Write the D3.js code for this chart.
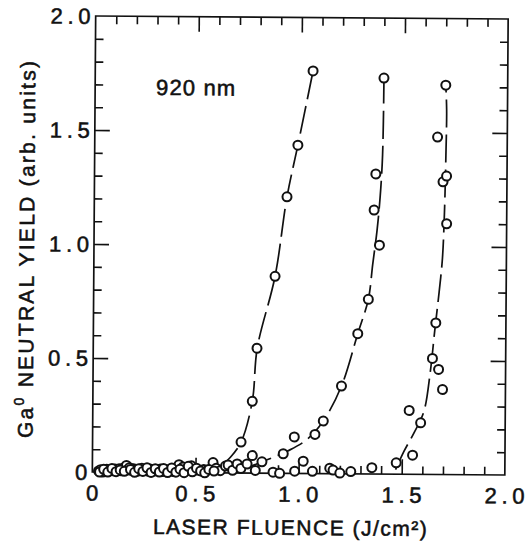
<!DOCTYPE html>
<html>
<head>
<meta charset="utf-8">
<script src="https://cdn.jsdelivr.net/npm/d3@7"></script>
<style>
  body { margin: 0; background: #fff; }
  svg { display: block; }
  text { font-family: "Liberation Sans", Arial, sans-serif; fill: #111; stroke: #111; stroke-width: 0.55px; }
</style>
</head>
<body>
<script>
// ---- data (x: J/cm2, y: arb. units) ----
var xMinorTicks = [0.1,0.2,0.3,0.4,0.6,0.7,0.8,0.9,1.1,1.2,1.3,1.4,1.6,1.7,1.8,1.9];
var majorTicks = [0.5,1.0,1.5];
var tickLabels = ["0","0.5","1.0","1.5","2.0"];
var tickValues = [0,0.5,1.0,1.5,2.0];

// points near zero (below threshold)
var lowPts = [[0.03,0.005],[0.04,0.01],[0.05,0.0],[0.06,0.008],[0.07,0.012],[0.08,0.004],[0.09,0.01],
  [0.10,0.006],[0.11,0.014],[0.12,0.008],[0.13,0.015],[0.14,0.006],[0.15,0.018],[0.165,0.03],[0.17,0.01],
  [0.18,0.02],[0.19,0.008],[0.20,0.015],[0.21,0.01],[0.22,0.005],[0.23,0.012],[0.24,0.018],[0.25,0.008],
  [0.26,0.012],[0.27,0.005],[0.28,0.015],[0.29,0.01],[0.30,0.006],[0.31,0.012],[0.32,0.008],[0.33,0.015],
  [0.34,0.004],[0.35,0.01],[0.36,0.012],[0.37,0.006],[0.38,0.014],[0.39,0.005],[0.40,0.01],[0.41,0.02],
  [0.42,0.035],[0.43,0.012],[0.44,0.025],[0.45,0.008],[0.46,0.018],[0.47,0.012],[0.48,0.03],[0.49,0.01],
  [0.51,0.012],[0.54,0.014],[0.56,0.012],[0.585,0.045],[0.60,0.02],[0.62,0.01],[0.645,0.03],[0.658,0.035],
  [0.68,0.012],[0.702,0.04],[0.72,0.02],[0.75,0.04],[0.775,0.077],[0.79,0.012],[0.822,0.05],[0.876,0.005],
  [0.908,0.0],[0.981,0.01],[1.022,0.054],[1.067,0.01],[1.151,0.024],[1.167,0.016],[1.2,0.003],[1.253,0.01],
  [0.035,0.0],[0.055,0.012],[0.075,0.0],[0.095,0.016],[0.115,0.002],[0.135,0.01],[0.155,0.004],[0.185,0.012],
  [0.205,0.0],[0.225,0.016],[0.245,0.004],[0.265,0.02],[0.285,0.0],[0.305,0.016],[0.325,0.002],[0.345,0.018],
  [0.365,0.0],[0.385,0.02],[0.405,0.002],[0.425,0.015],[0.445,0.0],[0.465,0.028],[0.485,0.004],[0.505,0.02],
  [0.525,0.008],[0.545,0.0],[0.565,0.015],[0.59,0.008]];

var pts1 = [[0.72,0.136],[0.773,0.315],[0.794,0.548],[0.879,0.864],[0.934,1.213],[0.985,1.44],[1.056,1.766]];
var pts2 = [[0.925,0.086],[0.978,0.16],[1.078,0.172],[1.118,0.231],[1.205,0.385],[1.282,0.615],[1.332,0.766],
  [1.384,1.004],[1.357,1.158],[1.364,1.316],[1.40,1.737]];
var pts3 = [[1.355,0.028],[1.473,0.05],[1.552,0.084],[1.534,0.28],[1.59,0.226],[1.695,0.373],[1.675,0.461],
  [1.645,0.509],[1.66,0.665],[1.709,1.10],[1.69,1.284],[1.707,1.309],[1.662,1.48],[1.70,1.708]];

// hand-drawn guide curves
var fit1 = [[0.61,0.02],[0.67,0.07],[0.72,0.136],[0.773,0.315],[0.795,0.548],[0.879,0.864],[0.934,1.213],[0.985,1.44],[1.056,1.766]];
var fit2 = [[0.74,0.02],[0.85,0.06],[0.95,0.10],[1.04,0.15],[1.118,0.231],[1.205,0.385],[1.282,0.615],[1.332,0.766],
  [1.352,0.92],[1.372,1.07],[1.386,1.22],[1.396,1.40],[1.40,1.737]];
var fit3 = [[1.47,0.02],[1.51,0.10],[1.56,0.185],[1.605,0.275],[1.635,0.45],[1.655,0.63],[1.675,0.80],[1.69,0.95],
  [1.698,1.15],[1.703,1.40],[1.705,1.60],[1.70,1.708]];

var width = 526, height = 542;
var x = d3.scaleLinear().domain([0,2]).range([94,506.5]);
var y = d3.scaleLinear().domain([0,2]).range([473.5,17.5]);

var svg = d3.select('body').append('svg')
            .attr('width',width)
            .attr('height',height);

// the scan is tilted a little
var g = svg.append('g').attr('transform','rotate(0.42,300,245)');

function noDomain(s) { s.select('.domain').remove(); s.selectAll('line').attr('stroke','#111').attr('stroke-width',1.6); }

g.append('g').attr('transform','translate(0,'+y(0)+')').call(d3.axisBottom(x).tickValues(xMinorTicks).tickSize(-8).tickFormat('')).call(noDomain);
g.append('g').attr('transform','translate(0,'+y(0)+')').call(d3.axisBottom(x).tickValues(majorTicks).tickSize(-15).tickFormat('')).call(noDomain);
g.append('g').attr('transform','translate(0,'+y(2)+')').call(d3.axisTop(x).tickValues(xMinorTicks).tickSize(-8).tickFormat('')).call(noDomain);
g.append('g').attr('transform','translate(0,'+y(2)+')').call(d3.axisTop(x).tickValues(majorTicks).tickSize(-15).tickFormat('')).call(noDomain);
g.append('g').attr('transform','translate('+x(0)+',0)').call(d3.axisLeft(y).tickValues(xMinorTicks).tickSize(-8).tickFormat('')).call(noDomain);
g.append('g').attr('transform','translate('+x(0)+',0)').call(d3.axisLeft(y).tickValues(majorTicks).tickSize(-15).tickFormat('')).call(noDomain);
g.append('g').attr('transform','translate('+x(2)+',0)').call(d3.axisRight(y).tickValues(xMinorTicks).tickSize(-8).tickFormat('')).call(noDomain);
g.append('g').attr('transform','translate('+x(2)+',0)').call(d3.axisRight(y).tickValues(majorTicks).tickSize(-15).tickFormat('')).call(noDomain);

g.append('rect')
  .attr('x',x(0)).attr('y',y(2))
  .attr('width',x(2)-x(0)).attr('height',y(0)-y(2))
  .attr('fill','none').attr('stroke','#111').attr('stroke-width',1.7);

// tick labels
g.selectAll('.xlab').data(tickValues).enter().append('text')
  .attr('class','xlab')
  .attr('x',function(d){return x(d);})
  .attr('y',502)
  .attr('text-anchor','middle')
  .attr('font-size',22)
  .attr('textLength',function(d,i){return tickLabels[i].length>1 ? 40 : null;})
  .text(function(d,i){return tickLabels[i];});

g.selectAll('.ylab').data(tickValues).enter().append('text')
  .attr('class','ylab')
  .attr('x',x(0)-5)
  .attr('y',function(d){return y(d);})
  .attr('dy','0.36em')
  .attr('text-anchor','end')
  .attr('font-size',22)
  .attr('textLength',function(d,i){return tickLabels[i].length>1 ? 40 : null;})
  .text(function(d,i){return tickLabels[i];});

// axis titles
g.append('text')
  .attr('x',155).attr('y',535)
  .attr('font-size',21)
  .attr('textLength',274).attr('lengthAdjust','spacing')
  .text('LASER FLUENCE (J/cm²)');

var yt = g.append('text')
  .attr('transform','translate(34,440) rotate(-90)')
  .attr('font-size',21)
  .attr('textLength',377).attr('lengthAdjust','spacing');
yt.append('tspan').text('Ga');
yt.append('tspan').attr('font-size',14).attr('dy',-9).text('0');
yt.append('tspan').attr('dy',9).text(' NEUTRAL YIELD (arb. units)');

g.append('text')
  .attr('x',155).attr('y',96)
  .attr('font-size',22)
  .attr('textLength',79).attr('lengthAdjust','spacing')
  .text('920 nm');

// guide curves
var line = d3.line()
  .x(function(d){return x(d[0]);})
  .y(function(d){return y(d[1]);})
  .curve(d3.curveCatmullRom.alpha(0.5));

g.selectAll('.fit').data([fit1,fit2,fit3]).enter().append('path')
  .attr('class','fit')
  .attr('d',line)
  .attr('fill','none')
  .attr('stroke','#111')
  .attr('stroke-width',1.7)
  .attr('stroke-dasharray','28,7');

// data circles
var allPts = lowPts.concat(pts1, pts2, pts3);
g.selectAll('.pt').data(allPts).enter().append('circle')
  .attr('class','pt')
  .attr('cx',function(d){return x(d[0]);})
  .attr('cy',function(d){return y(d[1]);})
  .attr('r',4.5)
  .attr('fill','#fff')
  .attr('stroke','#111')
  .attr('stroke-width',2);
</script>
</body>
</html>
